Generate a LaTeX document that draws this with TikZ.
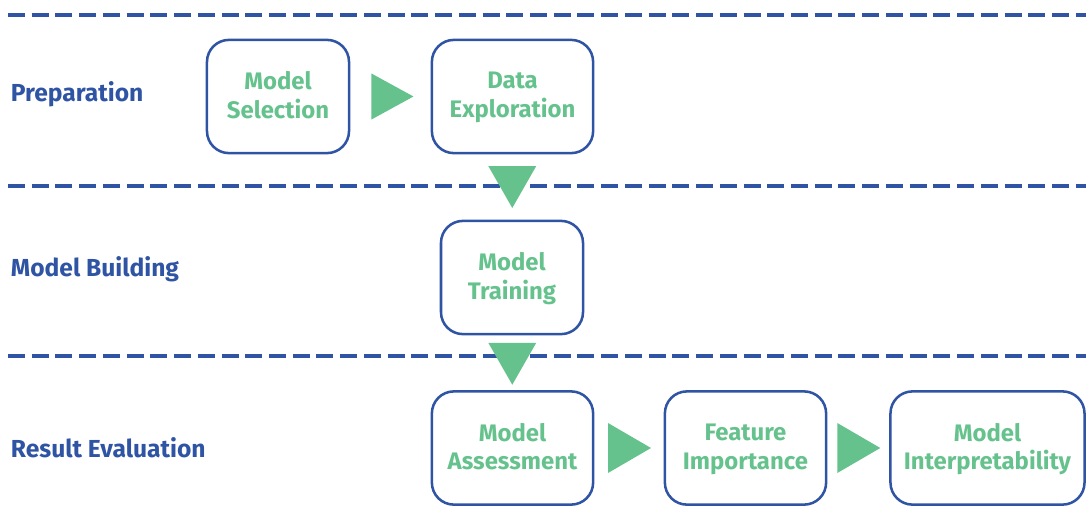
\documentclass[tikz,border=0pt]{standalone}
\usepackage{fontspec}
\setmainfont{Fira Sans}
\usetikzlibrary{calc}

\definecolor{laneblue}{HTML}{2F54A4}
\definecolor{stepgreen}{HTML}{66C28D}

\tikzset{
  stagebox/.style={draw=laneblue, line width=1.8pt, rounded corners=0.55cm,
    minimum height=2.83cm, align=center, text=stepgreen, text depth=0.22em,
    font=\fontsize{17}{20.5}\selectfont\bfseries},
  lanename/.style={anchor=west, text=laneblue, font=\fontsize{17.5}{20}\selectfont\bfseries},
  lanesep/.style={laneblue, line width=2.4pt, dash pattern=on 0.425cm off 0.168cm},
  arrowfill/.style={fill=stepgreen}
}

\begin{document}
\begin{tikzpicture}[x=0.025cm, y=-0.025cm]
  \useasboundingbox (0,0) rectangle (1086,527);

  % lane separators
  \draw[lanesep] (8,15) -- (1086,15);
  \draw[lanesep] (8,186) -- (1086,186);
  \draw[lanesep] (8,356) -- (1086,356);

  % lane names
  \node[lanename] (prep)  at (6,94)  {Preparation};
  \node[lanename] (build) at (6,269) {Model Building};
  \node[lanename] (eval)  at (6,448) {Result Evaluation};

  % steps
  \node[stagebox, minimum width=3.55cm]  (sel)    at (278,96.5)  {Model\\Selection};
  \node[stagebox, minimum width=4.03cm]  (expl)   at (512.5,96.5) {Data\\Exploration};
  \node[stagebox, minimum width=3.55cm]  (train)  at (512,277.5) {Model\\Training};
  \node[stagebox, minimum width=4.03cm]  (assess) at (512.5,448) {Model\\Assessment};
  \node[stagebox, minimum width=4.03cm]  (feat)   at (745.5,448) {Feature\\Importance};
  \node[stagebox, minimum width=4.85cm]  (interp) at (987.5,448) {Model\\Interpretability};

  % arrows between steps
  \coordinate (a1) at ($(sel.east)!0.5!(expl.west)$);
  \coordinate (a2) at ($(expl.south)!0.5!(train.north)$);
  \coordinate (a3) at ($(train.south)!0.5!(assess.north)$);
  \coordinate (a4) at ($(assess.east)!0.5!(feat.west)$);
  \coordinate (a5) at ($(feat.east)!0.5!(interp.west)$);
  \fill[arrowfill] ($(a1)+(-19,-23)$) -- ($(a1)+(23,0)$) -- ($(a1)+(-19,23)$) -- cycle;
  \fill[arrowfill] ($(a2)+(-24,-21)$) -- ($(a2)+(24,-21)$) -- ($(a2)+(0,21)$) -- cycle;
  \fill[arrowfill] ($(a3)+(-24,-20)$) -- ($(a3)+(24,-20)$) -- ($(a3)+(0,22)$) -- cycle;
  \fill[arrowfill] ($(a4)+(-21,-25)$) -- ($(a4)+(22,0)$) -- ($(a4)+(-21,25)$) -- cycle;
  \fill[arrowfill] ($(a5)+(-21,-25)$) -- ($(a5)+(22,0)$) -- ($(a5)+(-21,25)$) -- cycle;
\end{tikzpicture}
\end{document}
